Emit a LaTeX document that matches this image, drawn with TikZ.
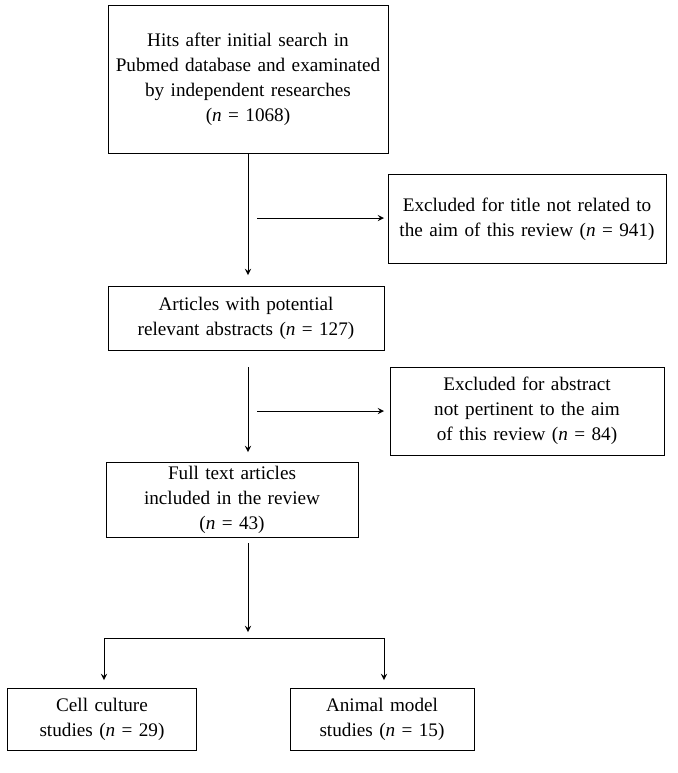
\documentclass[tikz,border=0pt]{standalone}
\usepackage{fontspec}
\setmainfont{Liberation Serif}
\newcommand{\nn}{\textit{n}}
\hyphenpenalty=10000
\begin{document}
\begin{tikzpicture}[x=0.5pt,y=-0.5pt]
\tikzset{box/.style={draw,align=center,inner sep=2pt,font=\fontsize{9.6}{12.5}\selectfont},
  arr/.style={->,>=stealth,thin}}
\useasboundingbox (0,0) rectangle (677,773);
\node[box,minimum width=140pt,minimum height=74pt,text width=136pt] (hits) at (248,79)
  {Hits after initial search in Pubmed database and examinated by independent researches\\(\nn{} = 1068)};
\node[box,minimum width=137pt,minimum height=44.5pt,text width=135pt] (excl1) at (527,219)
  {Excluded for title not related to the aim of this review (\nn{} = 941)};
\node[box,minimum width=138pt,minimum height=32pt,text width=134pt] (abs) at (246,318)
  {Articles with potential relevant abstracts (\nn{} = 127)};
\node[box,minimum width=137pt,minimum height=44pt,text width=130pt] (excl2) at (527,411)
  {Excluded for abstract not pertinent to the aim of this review (\nn{} = 84)};
\node[box,minimum width=124pt,minimum height=37.5pt,text width=122pt] (full) at (232,500)
  {Full text articles included in the review\\(\nn{} = 43)};
\node[box,minimum width=94.5pt,minimum height=31pt,text width=90pt] (cell) at (102,719)
  {Cell culture studies (\nn{} = 29)};
\node[box,minimum width=92pt,minimum height=31pt,text width=88pt] (animal) at (382,719)
  {Animal model studies (\nn{} = 15)};
\coordinate (s1) at (257,218);
\coordinate (s2) at (257,411);
\coordinate (end1) at (248,275);
\coordinate (end3) at (248,452);
\coordinate (from3) at (248,367);
\coordinate (from5) at (248,543);
\coordinate (split) at (248,632);
\coordinate (left) at (104,638);
\coordinate (right) at (384,638);
\coordinate (lend) at (104,680);
\coordinate (rend) at (384,680);
\draw[arr] (hits.south) -- (end1);
\draw[arr] (s1) -- (384,218);
\draw[arr] (from3) -- (end3);
\draw[arr] (s2) -- (384,411);
\draw[arr] (from5) -- (split);
\draw (left) -- (right);
\draw[arr] (left) -- (lend);
\draw[arr] (right) -- (rend);
\end{tikzpicture}
\end{document}
